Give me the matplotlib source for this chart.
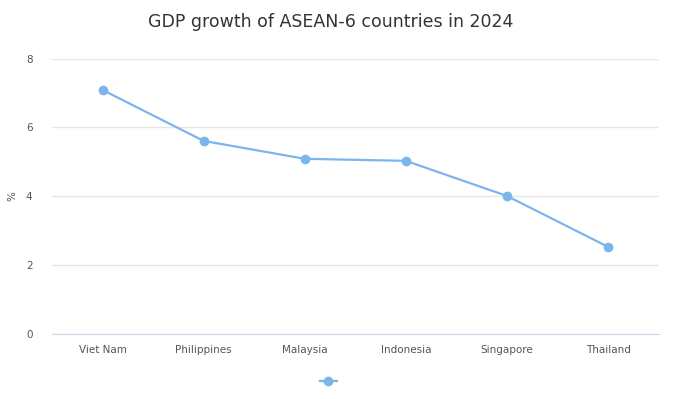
import matplotlib
matplotlib.use("Agg")
import matplotlib.pyplot as plt
from matplotlib.lines import Line2D

countries = ["Viet Nam", "Philippines", "Malaysia", "Indonesia", "Singapore", "Thailand"]
growth = [7.09, 5.61, 5.09, 5.03, 4.01, 2.53]
y_ticks = [0, 2, 4, 6, 8]

plt.rcParams["font.family"] = ["DejaVu Sans"]

LINE = "#7cb5ec"
GRID = "#e6e6e6"
TXT = "#555555"

fig = plt.figure(figsize=(6.84, 3.99), dpi=100)
ax = fig.add_axes([0.076, 0.163, 0.887, 0.690])

x = list(range(len(countries)))
ax.plot(x, growth, color=LINE, linewidth=1.6, marker="o", markersize=6, zorder=3)

ax.set_xlim(-0.5, len(countries) - 0.5)
ax.set_ylim(0, 8)
ax.set_yticks(y_ticks)
ax.set_yticklabels([str(v) for v in y_ticks])
ax.set_xticks(x)
ax.set_xticklabels(countries)
ax.grid(axis="y", color=GRID, linewidth=1)
ax.set_axisbelow(True)

for s in ["top", "right", "left"]:
    ax.spines[s].set_visible(False)
ax.spines["bottom"].set_color("#ccd6eb")
ax.spines["bottom"].set_zorder(2)
ax.tick_params(axis="y", length=0, pad=14, labelsize=7.5, labelcolor=TXT)
ax.tick_params(axis="x", length=0, pad=8, labelsize=7.5, labelcolor=TXT)

ax.set_ylabel("%", color=TXT, fontsize=7.5, labelpad=6)

fig.text(0.484, 0.945, "GDP growth of ASEAN-6 countries in 2024", ha="center", va="center",
         fontsize=12.5, color="#333333")

handle = Line2D([], [], color=LINE, linewidth=1.6, marker="o", markersize=6)
fig.legend([handle], [""], loc="center", bbox_to_anchor=(0.48, 0.043), frameon=False,
           handlelength=1.2, handletextpad=0)

fig.savefig("out.png", dpi=100, facecolor="white")
